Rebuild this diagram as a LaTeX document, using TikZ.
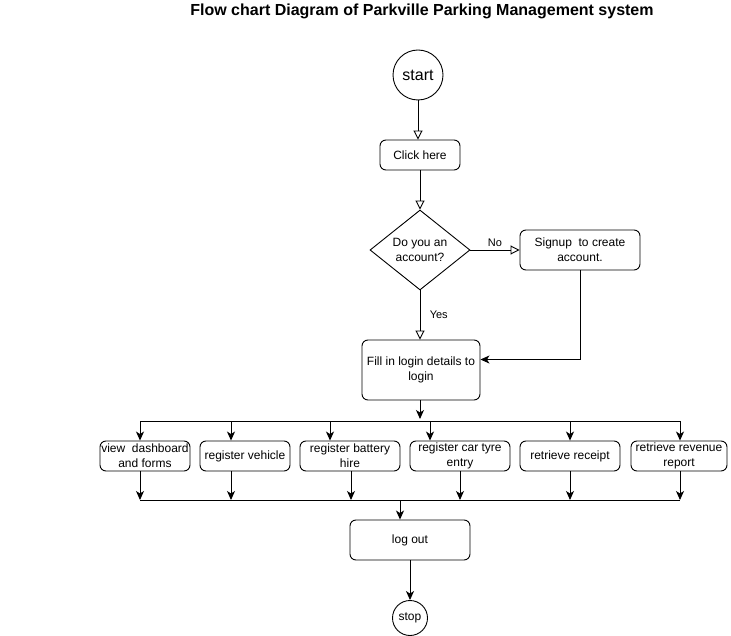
\documentclass[tikz,border=0pt]{standalone}
\usepackage{fontspec}
\setmainfont{Liberation Sans}
\usetikzlibrary{shapes.geometric,arrows.meta}
\tikzstyle{box}=[draw,rounded corners=6pt,align=center,inner sep=1pt,font=\fontsize{12}{15}\selectfont]
\tikzstyle{term}=[draw,circle,inner sep=0pt]
\tikzstyle{dec}=[draw,diamond,aspect=1.25,inner sep=0pt,minimum width=100pt,minimum height=80pt,align=center,font=\fontsize{12}{15}\selectfont]
\tikzstyle{hollow}=[-{Triangle[open,length=9pt,width=9pt]}]
\tikzstyle{blk}=[-{Stealth[length=9pt,width=8pt,inset=2.5pt]}]
\tikzstyle{lbl}=[font=\fontsize{11}{13}\selectfont]

\begin{document}
\begin{tikzpicture}[x=1pt,y=-1pt,line width=0.9pt]
\useasboundingbox (0,0) rectangle (731,636);
\node[font=\fontsize{16}{18}\selectfont\bfseries] (title) at (422,11) {Flow chart Diagram of Parkville Parking Management system};

\node[term,minimum size=50pt,font=\fontsize{16}{18}\selectfont] (start) at (418,75) {start};
\node[box,minimum width=80pt,minimum height=30pt] (click) at (420,155) {Click here};
\node[dec] (acc) at (420,250) {Do you an\\account?};
\node[box,minimum width=120pt,minimum height=40pt] (sign) at (580,250) {Signup\ \ to create\\account.};
\node[box,minimum width=118pt,minimum height=60pt] (fill) at (421,370) {Fill in login details to\\login};

\node[box,minimum width=90pt,minimum height=30pt] (b1) at (145,456) {view\ \ dashboard\\and forms};
\node[box,minimum width=90pt,minimum height=30pt] (b2) at (245,456) {register vehicle};
\node[box,minimum width=100pt,minimum height=30pt] (b3) at (350,456) {register battery\\hire};
\node[box,minimum width=100pt,minimum height=30pt] (b4) at (460,456) {register car tyre\\entry};
\node[box,minimum width=100pt,minimum height=30pt] (b5) at (570,456) {retrieve receipt};
\node[box,minimum width=96pt,minimum height=30pt] (b6) at (679,456) {retrieve revenue\\report};

\node[box,minimum width=120pt,minimum height=40pt] (out) at (410,540) {log out};
\node[term,minimum size=35pt,font=\fontsize{12}{14}\selectfont] (stop) at (410,618) {stop};

% split and join lines
\coordinate (s0) at (420,421);
\coordinate (s1) at (140,421);
\coordinate (s2) at (231,421);
\coordinate (s3) at (330,421);
\coordinate (s4) at (430,421);
\coordinate (s5) at (570,421);
\coordinate (s6) at (680,421);
\coordinate (j0) at (400,500);
\coordinate (j1) at (140,500);
\coordinate (j2) at (231,500);
\coordinate (j3) at (351,500);
\coordinate (j4) at (460,500);
\coordinate (j5) at (570,500);
\coordinate (j6) at (680,500);

\draw[hollow] (start) -- (start.south |- click.north);
\draw[hollow] (click) -- (acc);
\draw[hollow] (acc) edge node[lbl,anchor=south,pos=0.5] {No} (sign);
\draw[hollow] (acc) edge node[lbl,anchor=west,xshift=6pt] {Yes} (fill.north -| acc);
\draw[blk] (sign.south) |- (fill.10);

\draw[blk] (fill.south -| s0) -- ([yshift=2pt]s0);
\draw (s1) -- (s6);
\draw[blk] (s1) -- (s1 |- b1.north);
\draw[blk] (s2) -- (s2 |- b2.north);
\draw[blk] (s3) -- (s3 |- b3.north);
\draw[blk] (s4) -- (s4 |- b4.north);
\draw[blk] (s5) -- (s5 |- b5.north);
\draw[blk] (s6) -- (s6 |- b6.north);

\draw[blk] (b1.south -| j1) -- (j1);
\draw[blk] (b2.south -| j2) -- (j2);
\draw[blk] (b3.south -| j3) -- (j3);
\draw[blk] (b4.south -| j4) -- (j4);
\draw[blk] (b5.south -| j5) -- (j5);
\draw[blk] (b6.south -| j6) -- (j6);
\draw (j1) -- (j6);

\draw[blk] (j0) -- (j0 |- out.north);
\draw[blk] (out) -- (stop);
\end{tikzpicture}
\end{document}
